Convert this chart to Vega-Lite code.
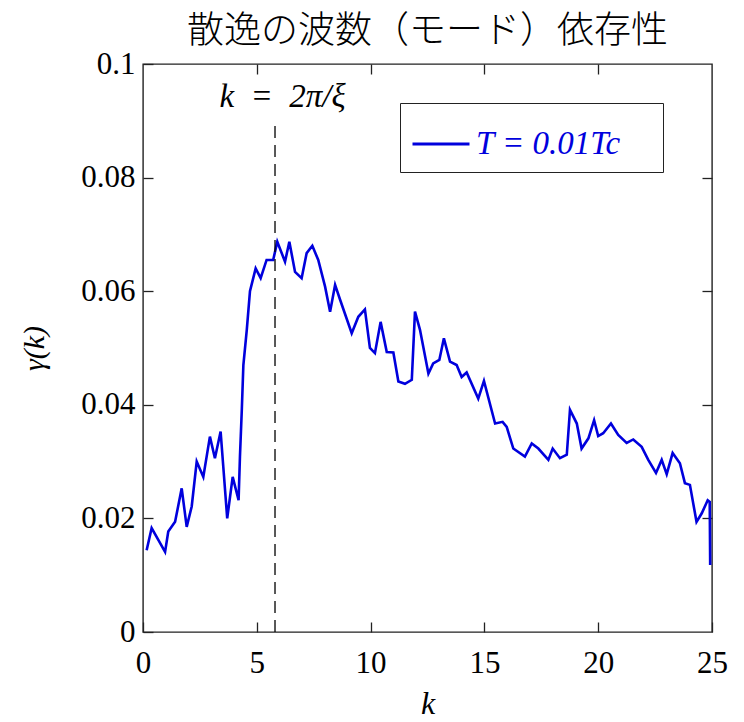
{
  "$schema": "https://vega.github.io/schema/vega-lite/v6.json",
  "autosize": {"type": "none"},
  "width": 569,
  "height": 568,
  "padding": {"left": 143, "top": 64, "right": 32, "bottom": 90},
  "background": "white",
  "datasets": {
    "curve": [
      {"k": 0.16, "g": 0.0144, "s": "A"}, {"k": 0.38, "g": 0.0183, "s": "A"}, {"k": 0.97, "g": 0.0141, "s": "A"}, {"k": 1.11, "g": 0.0177, "s": "A"},
      {"k": 1.41, "g": 0.0194, "s": "A"}, {"k": 1.70, "g": 0.0253, "s": "A"}, {"k": 1.92, "g": 0.0185, "s": "A"}, {"k": 2.14, "g": 0.0221, "s": "A"},
      {"k": 2.36, "g": 0.0300, "s": "A"}, {"k": 2.65, "g": 0.0273, "s": "A"}, {"k": 2.94, "g": 0.0344, "s": "A"}, {"k": 3.16, "g": 0.0306, "s": "A"},
      {"k": 3.41, "g": 0.0353, "s": "A"}, {"k": 3.70, "g": 0.0200, "s": "A"}, {"k": 3.94, "g": 0.0273, "s": "A"}, {"k": 4.20, "g": 0.0232, "s": "A"},
      {"k": 4.26, "g": 0.0309, "s": "A"}, {"k": 4.34, "g": 0.0390, "s": "A"}, {"k": 4.41, "g": 0.0470, "s": "A"}, {"k": 4.56, "g": 0.0532, "s": "A"},
      {"k": 4.70, "g": 0.0600, "s": "A"}, {"k": 4.95, "g": 0.0640, "s": "A"}, {"k": 5.17, "g": 0.0623, "s": "A"}, {"k": 5.43, "g": 0.0655, "s": "A"},
      {"k": 5.72, "g": 0.0655, "s": "A"}, {"k": 5.90, "g": 0.0687, "s": "A"}, {"k": 6.24, "g": 0.0652, "s": "A"}, {"k": 6.43, "g": 0.0687, "s": "A"},
      {"k": 6.68, "g": 0.0634, "s": "A"}, {"k": 6.97, "g": 0.0623, "s": "A"}, {"k": 7.19, "g": 0.0667, "s": "A"}, {"k": 7.44, "g": 0.0680, "s": "A"},
      {"k": 7.70, "g": 0.0655, "s": "A"}, {"k": 8.00, "g": 0.0608, "s": "A"}, {"k": 8.22, "g": 0.0564, "s": "A"}, {"k": 8.44, "g": 0.0611, "s": "A"},
      {"k": 8.66, "g": 0.0585, "s": "A"}, {"k": 9.17, "g": 0.0526, "s": "A"}, {"k": 9.46, "g": 0.0555, "s": "A"}, {"k": 9.75, "g": 0.0568, "s": "A"},
      {"k": 9.97, "g": 0.0500, "s": "A"}, {"k": 10.19, "g": 0.0491, "s": "A"}, {"k": 10.44, "g": 0.0546, "s": "A"}, {"k": 10.71, "g": 0.0493, "s": "A"},
      {"k": 11.00, "g": 0.0492, "s": "A"}, {"k": 11.22, "g": 0.0441, "s": "A"}, {"k": 11.51, "g": 0.0437, "s": "A"}, {"k": 11.81, "g": 0.0444, "s": "A"},
      {"k": 11.95, "g": 0.0564, "s": "A"}, {"k": 12.17, "g": 0.0532, "s": "A"}, {"k": 12.54, "g": 0.0455, "s": "A"}, {"k": 12.75, "g": 0.0473, "s": "A"},
      {"k": 13.02, "g": 0.0479, "s": "A"}, {"k": 13.22, "g": 0.0517, "s": "A"}, {"k": 13.49, "g": 0.0476, "s": "A"}, {"k": 13.78, "g": 0.0470, "s": "A"},
      {"k": 14.00, "g": 0.0449, "s": "A"}, {"k": 14.22, "g": 0.0457, "s": "A"}, {"k": 14.73, "g": 0.0411, "s": "A"}, {"k": 14.98, "g": 0.0442, "s": "A"},
      {"k": 15.47, "g": 0.0367, "s": "A"}, {"k": 15.80, "g": 0.0370, "s": "A"}, {"k": 15.98, "g": 0.0361, "s": "A"}, {"k": 16.27, "g": 0.0323, "s": "A"},
      {"k": 16.78, "g": 0.0309, "s": "A"}, {"k": 17.08, "g": 0.0332, "s": "A"}, {"k": 17.37, "g": 0.0323, "s": "A"}, {"k": 17.81, "g": 0.0303, "s": "A"},
      {"k": 18.00, "g": 0.0323, "s": "A"}, {"k": 18.32, "g": 0.0306, "s": "A"}, {"k": 18.62, "g": 0.0312, "s": "A"}, {"k": 18.76, "g": 0.0391, "s": "A"},
      {"k": 19.06, "g": 0.0367, "s": "A"}, {"k": 19.27, "g": 0.0323, "s": "A"}, {"k": 19.57, "g": 0.0341, "s": "A"}, {"k": 19.82, "g": 0.0373, "s": "A"},
      {"k": 20.00, "g": 0.0345, "s": "A"}, {"k": 20.22, "g": 0.0350, "s": "A"}, {"k": 20.56, "g": 0.0367, "s": "A"}, {"k": 20.88, "g": 0.0347, "s": "A"},
      {"k": 21.25, "g": 0.0333, "s": "A"}, {"k": 21.54, "g": 0.0339, "s": "A"}, {"k": 21.91, "g": 0.0326, "s": "A"}, {"k": 22.20, "g": 0.0303, "s": "A"},
      {"k": 22.54, "g": 0.0280, "s": "A"}, {"k": 22.79, "g": 0.0303, "s": "A"}, {"k": 23.01, "g": 0.0278, "s": "A"}, {"k": 23.27, "g": 0.0315, "s": "A"},
      {"k": 23.59, "g": 0.0297, "s": "A"}, {"k": 23.81, "g": 0.0262, "s": "A"}, {"k": 24.03, "g": 0.0259, "s": "A"}, {"k": 24.32, "g": 0.0194, "s": "A"},
      {"k": 24.55, "g": 0.0209, "s": "A"}, {"k": 24.81, "g": 0.0232, "s": "A"}, {"k": 24.90, "g": 0.0229, "s": "A"}, {"k": 24.92, "g": 0.0118, "s": "A"}
    ]
  },
  "title": {
    "text": "散逸の波数（モード）依存性",
    "font": "Noto Sans CJK JP",
    "fontSize": 37,
    "fontWeight": 300,
    "color": "black",
    "offset": -3
  },
  "config": {
    "view": {"stroke": "#222222", "strokeWidth": 1.4},
    "axis": {
      "labelFont": "Liberation Serif",
      "labelFontSize": 31,
      "labelColor": "black",
      "titleFont": "Liberation Serif",
      "titleColor": "black",
      "titleFontWeight": "normal",
      "tickColor": "#222222",
      "domain": false,
      "grid": false,
      "tickSize": -10,
      "tickWidth": 1.3
    },
    "legend": {
      "orient": "none",
      "legendX": 257,
      "legendY": 39,
      "strokeColor": "#222222",
      "fillColor": "white",
      "padding": 11,
      "symbolType": "stroke",
      "symbolSize": 3249,
      "symbolStrokeWidth": 3,
      "labelFont": "Liberation Serif",
      "labelFontSize": 33,
      "labelFontStyle": "italic",
      "labelColor": "#0000dd",
      "labelOffset": 5,
      "labelLimit": 400
    }
  },
  "resolve": {"axis": {"x": "independent", "y": "independent"}},
  "layer": [
    {
      "data": {"name": "curve"},
      "mark": {"type": "line", "strokeWidth": 2.6, "interpolate": "linear"},
      "encoding": {
        "x": {
          "field": "k", "type": "quantitative",
          "scale": {"domain": [0, 25], "nice": false, "zero": false},
          "axis": {"orient": "bottom", "values": [0, 5, 10, 15, 20, 25], "labelPadding": 26, "title": "k", "titleFontSize": 32, "titleFontStyle": "italic", "titlePadding": 10, "labelFlush": false}
        },
        "y": {
          "field": "g", "type": "quantitative",
          "scale": {"domain": [0, 0.1], "nice": false},
          "axis": {"orient": "left", "values": [0, 0.02, 0.04, 0.06, 0.08, 0.1], "format": "~g", "labelPadding": 18, "title": "γ(k)", "titleFontSize": 30, "titleFontStyle": "italic", "titlePadding": 31, "labelFlush": false}
        },
        "color": {
          "field": "s", "type": "nominal",
          "scale": {"range": ["#0000dd"]},
          "legend": {"title": null, "labelExpr": "'T = 0.01Tc\u2009\u2800'"}
        }
      }
    },
    {
      "data": {"values": [{"k": 5.8, "y0": 0, "y1": 0.09}]},
      "mark": {"type": "rule", "strokeDash": [12, 7], "color": "black", "strokeWidth": 1.3},
      "encoding": {
        "x": {"field": "k", "type": "quantitative", "axis": {"orient": "top", "values": [5, 10, 15, 20], "labels": false, "title": null}},
        "y": {"field": "y0", "type": "quantitative", "axis": {"orient": "right", "values": [0.02, 0.04, 0.06, 0.08], "labels": false, "title": null}},
        "y2": {"field": "y1"}
      }
    },
    {
      "data": {"values": [{"k": 6.13, "y": 0.0942, "label": "k\u2002=\u20022π/ξ"}]},
      "mark": {"type": "text", "font": "Liberation Serif", "fontSize": 33, "fontStyle": "italic", "color": "black", "baseline": "middle", "align": "center"},
      "encoding": {
        "x": {"field": "k", "type": "quantitative", "axis": null},
        "y": {"field": "y", "type": "quantitative", "axis": null},
        "text": {"field": "label"}
      }
    }
  ]
}
